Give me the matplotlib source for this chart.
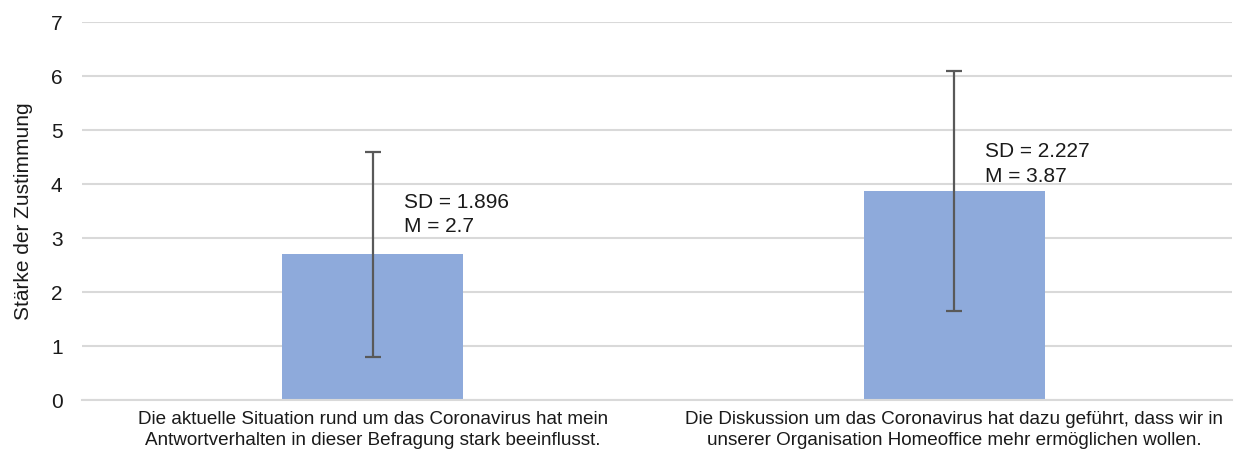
import matplotlib
matplotlib.use("Agg")
import matplotlib.pyplot as plt

categories = [
    "Die aktuelle Situation rund um das Coronavirus hat mein\nAntwortverhalten in dieser Befragung stark beeinflusst.",
    "Die Diskussion um das Coronavirus hat dazu geführt, dass wir in\nunserer Organisation Homeoffice mehr ermöglichen wollen.",
]
means = [2.7, 3.87]
sds = [1.896, 2.227]
mean_labels = ["2.7", "3.87"]
sd_labels = ["1.896", "2.227"]

plt.rcParams['font.family'] = ['Liberation Sans', 'DejaVu Sans']

fig = plt.figure(figsize=(12.36, 4.5), dpi=100)
ax = fig.add_axes([82 / 1236, 50 / 450, (1232 - 82) / 1236, 378 / 450])

x = list(range(len(categories)))
ax.bar(x, means, width=0.311, color="#8eaadb", zorder=2)
ax.errorbar(x, means, yerr=sds, fmt="none", ecolor="#595959",
            elinewidth=1.6, capsize=5.5, capthick=1.6, zorder=3)

# label position above each bar (offset)
label_offset = [1.14, 0.90]
for i in x:
    ax.text(i + 0.054, means[i] + label_offset[i],
            f"SD = {sd_labels[i]}\nM = {mean_labels[i]}",
            fontsize=15, va="top", ha="left", linespacing=1.35, color="#1a1a1a")

ax.set_xlim(-0.5, 1.478)
ax.set_ylim(0, 7)
ax.set_yticks(range(0, 8))
ax.yaxis.grid(True, color="#d9d9d9", linewidth=1.5, zorder=0)
ax.set_axisbelow(True)
for s in ["top", "right", "left"]:
    ax.spines[s].set_visible(False)
ax.spines["bottom"].set_color("#d9d9d9")
ax.spines["bottom"].set_linewidth(1.5)

ax.set_xticks(x)
ax.set_xticklabels(categories, fontsize=13.6, linespacing=1.3)
ax.tick_params(axis="x", length=0, pad=8, colors="#1a1a1a")
ax.tick_params(axis="y", length=0, pad=14, labelsize=15, colors="#1a1a1a")
ax.set_ylabel("Stärke der Zustimmung", fontsize=15, color="#1a1a1a", labelpad=13)

fig.savefig("out.png", dpi=100)
